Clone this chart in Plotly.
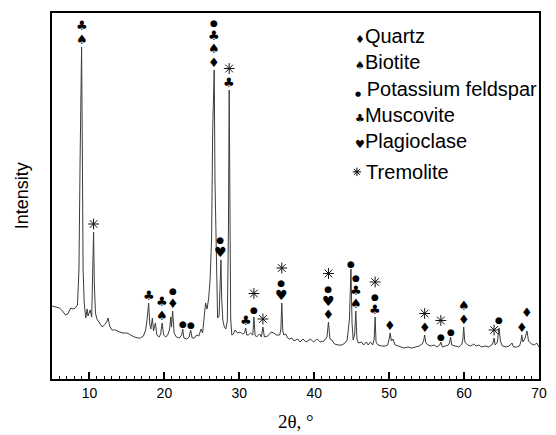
import plotly.graph_objects as go
import numpy as np

# ---- data (2θ in degrees, intensity in arbitrary units) ----
two_theta = [
    5.0, 5.5, 6.0, 6.4, 6.8, 7.1, 7.5, 7.8, 8.1, 8.4, 8.6, 8.75, 8.85, 8.95, 9.05, 9.15, 9.3, 9.5,
    9.7, 9.8, 9.95, 10.1, 10.3, 10.45, 10.55, 10.65, 10.8, 11.0, 11.3, 11.7, 12.1, 12.3, 12.48, 12.7,
    13.0, 13.5, 14.0, 14.5, 15.0, 15.5, 16.0, 16.5, 16.8, 17.2, 17.5, 17.7, 17.9, 18.05, 18.2, 18.4,
    18.55, 18.8, 19.0, 19.3, 19.5, 19.7, 19.9, 20.2, 20.5, 20.7, 20.85, 20.95, 21.1, 21.3, 21.6, 22.0,
    22.3, 22.45, 22.6, 23.0, 23.3, 23.5, 23.7, 24.0, 24.3, 24.6, 24.9, 25.1, 25.3, 25.5, 25.7, 25.9,
    26.1, 26.3, 26.45, 26.55, 26.65, 26.75, 26.85, 26.95, 27.1, 27.3, 27.45, 27.55, 27.65, 27.8, 28.0,
    28.2, 28.4, 28.55, 28.65, 28.75, 28.85, 29.0, 29.2, 29.45, 29.75, 30.1, 30.45, 30.7, 30.85, 31.0,
    31.2, 31.5, 31.8, 31.95, 32.1, 32.3, 32.7, 32.95, 33.15, 33.35, 33.8, 34.25, 34.6, 34.95, 35.4,
    35.55, 35.67, 35.8, 35.95, 36.2, 36.45, 36.7, 37.0, 37.3, 37.8, 38.1, 38.5, 38.9, 39.5, 39.9, 40.4,
    40.8, 41.3, 41.7, 41.9, 42.1, 42.36, 42.7, 43.2, 43.7, 44.1, 44.4, 44.7, 44.9, 45.05, 45.2, 45.4,
    45.55, 45.7, 45.9, 46.3, 46.6, 46.95, 47.2, 47.5, 47.8, 48.0, 48.13, 48.25, 48.5, 49.0, 49.5, 49.8,
    50.0, 50.14, 50.3, 50.5, 50.8, 51.2, 51.6, 52.0, 52.5, 53.0, 53.5, 54.0, 54.4, 54.6, 54.74, 54.9,
    55.2, 55.6, 56.0, 56.4, 56.75, 56.9, 57.1, 57.5, 57.9, 58.05, 58.2, 58.35, 58.8, 59.3, 59.7, 59.85,
    59.95, 60.1, 60.5, 60.9, 61.3, 61.6, 62.0, 62.3, 62.8, 63.3, 63.7, 63.9, 64.0, 64.15, 64.45, 64.67,
    64.85, 65.1, 65.6, 66.0, 66.4, 66.6, 67.0, 67.4, 67.6, 67.7, 67.85, 68.1, 68.4, 68.6, 69.0, 69.4,
    69.7, 70.0,
]
intensity = [
    73, 72, 71, 68, 64, 65, 71, 70, 71, 74, 110, 220, 320, 332, 230, 110, 76, 61,
    70, 63, 66, 69, 62, 110, 147, 95, 66, 60, 57, 52, 55, 57, 61, 53,
    49, 49, 47, 46, 46, 44, 42, 41, 41, 43, 49, 60, 76, 55, 50, 61,
    48, 56, 44, 42, 45, 56, 44, 42, 45, 50, 62, 52, 68, 46, 42, 41,
    44, 50, 41, 40, 42, 49, 41, 41, 44, 43, 50, 46, 60, 76, 70, 80,
    99, 140, 250, 309, 309, 200, 146, 146, 61, 63, 90, 119, 80, 59, 52,
    50, 58, 150, 289, 150, 60, 44, 45, 49, 46, 47, 45, 46, 51, 44,
    44, 46, 44, 62, 44, 42, 45, 42, 52, 42, 43, 47, 46, 44, 44,
    50, 76, 48, 44, 45, 41, 40, 41, 38, 40, 37, 40, 37, 40, 37, 40,
    37, 38, 42, 57, 40, 39, 35, 34, 34, 36, 39, 60, 110, 55, 39, 45,
    68, 40, 36, 37, 34, 37, 34, 37, 34, 40, 62, 37, 34, 33, 33, 34,
    40, 46, 38, 40, 34, 33, 32, 31, 32, 31, 32, 33, 35, 38, 44, 36,
    34, 33, 34, 32, 34, 37, 32, 33, 34, 36, 42, 34, 33, 32, 35, 40,
    52, 37, 34, 33, 35, 33, 34, 32, 33, 32, 34, 37, 41, 34, 37, 51,
    38, 33, 32, 33, 36, 32, 32, 33, 38, 44, 37, 40, 48, 38, 35, 34,
    36, 32,
]

# phases and their marker symbols
phase_codes = ["Q", "B", "K", "M", "P", "T"]
phase_names = ["Quartz", "Biotite", "Potassium feldspar", "Muscovite", "Plagioclase", "Tremolite"]
phase_symbols = ["\u2666", "\u2660", "\u25cf", "\u2663", "\u2665", None]  # Tremolite: asterisk marker

# identified peaks: position and phases (listed bottom -> top)
peak_positions = [8.95, 10.55, 17.9, 19.7, 21.1, 22.45, 23.5, 26.6, 27.55, 28.65, 30.85, 31.95,
                  33.15, 35.67, 41.9, 44.9, 45.55, 48.13, 50.14, 54.74, 56.9, 58.2, 59.95, 64.0,
                  64.67, 67.7, 68.4]
peak_phases = ["BM", "T", "M", "BM", "QK", "K", "K", "QBMK", "PK", "MT", "M", "KT",
               "T", "PKT", "QPKT", "K", "BMK", "MKT", "Q", "QT", "KT", "K", "QB", "T",
               "K", "Q", "Q"]

x_tick_values = [10, 20, 30, 40, 50, 60, 70]

sym_of = dict(zip(phase_codes, phase_symbols))
sym_size = {"Q": 13, "B": 13, "K": 9, "M": 13, "P": 14}
extra_lift = {68.4: 11, 64.67: 3, 31.95: 2}
STEP = 13.5           # px between stacked symbols
BASE_FONT = STEP / 1.3  # plotly line spacing is 1.3 em

fig = go.Figure()
fig.add_trace(go.Scatter(x=two_theta, y=intensity, mode="lines",
                         line=dict(color="#3c3c3c", width=1), showlegend=False,
                         hoverinfo="skip"))

# y axis spans 366 units over 366 px, so a label offset in px equals an offset in y units
tt = np.array(two_theta)
ii = np.array(intensity)
star_x, star_y = [], []
for pos, codes in zip(peak_positions, peak_phases):
    top = float(ii[np.abs(tt - pos) <= 0.12].max())
    lift0 = extra_lift.get(pos, 0)
    glyphs = [c for c in codes if c != "T"]
    if "T" in codes:
        star_x.append(pos)
        star_y.append(top + 8 + STEP * codes.index("T") + lift0)
    if glyphs:
        lines = [f'<span style="font-size:{sym_size[c]}px">{sym_of[c]}</span>'
                 for c in reversed(glyphs)]
        fig.add_annotation(x=pos, y=top, text="<br>".join(lines), showarrow=False,
                           xanchor="center", yanchor="bottom", yshift=lift0 - 1, borderpad=0,
                           font=dict(family="DejaVu Sans", size=BASE_FONT, color="black"))

fig.add_trace(go.Scatter(x=star_x, y=star_y, mode="markers", showlegend=False, hoverinfo="skip",
                         marker=dict(symbol="asterisk-open", size=9, color="#111111",
                                     line=dict(color="#111111", width=1))))

# legend drawn as text
legend_y = [0.937, 0.866, 0.792, 0.721, 0.650, 0.566]
legend_x = 0.62
for name, s, c, ly in zip(phase_names, phase_symbols, phase_codes, legend_y):
    if c == "T":
        fig.add_trace(go.Scatter(x=[5 + legend_x * 65 + 0.4], y=[ly * 366], mode="markers",
                                 showlegend=False, hoverinfo="skip",
                                 marker=dict(symbol="asterisk-open", size=7, color="black",
                                             line=dict(color="black", width=1))))
        txt = "\u2007" + name
    else:
        sep = " " if c == "K" else ""
        fs = {"K": 7}.get(c, 11)
        txt = f'<span style="font-family:DejaVu Sans;font-size:{fs}px">{s}</span>{sep}{name}'
    fig.add_annotation(xref="paper", yref="paper", x=legend_x, y=ly, xanchor="left",
                       yanchor="middle", showarrow=False, borderpad=0, text=txt,
                       font=dict(family="Liberation Sans", size=20, color="black"))

# axis titles
fig.add_annotation(xref="paper", yref="paper", x=-0.061, y=0.5, text="Intensity", textangle=-90,
                   showarrow=False, xanchor="center", yanchor="middle",
                   font=dict(family="Liberation Sans", size=18, color="black"))
fig.add_annotation(xref="paper", yref="paper", x=0.5, y=-0.115, text="2θ, °",
                   showarrow=False, xanchor="center", yanchor="middle",
                   font=dict(family="Liberation Serif", size=19, color="black"))

fig.update_layout(
    width=556, height=435,
    margin=dict(l=52, r=9, t=13, b=56),
    paper_bgcolor="white", plot_bgcolor="white",
    xaxis=dict(range=[5, 70], tickvals=x_tick_values, ticks="inside", ticklen=7, tickwidth=1.5,
               tickcolor="black", showline=True, linecolor="black", linewidth=1.5, mirror=True,
               showgrid=False, zeroline=False,
               tickfont=dict(family="Liberation Sans", size=14, color="black"),
               minor=dict(ticks="inside", ticklen=3.5, dtick=1, tick0=0, tickcolor="black",
                          tickwidth=1, showgrid=False)),
    yaxis=dict(range=[0, 366], showticklabels=False, ticks="", showline=True, linecolor="black",
               linewidth=1.5, mirror=True, showgrid=False, zeroline=False),
)

fig.write_html("out.html")
